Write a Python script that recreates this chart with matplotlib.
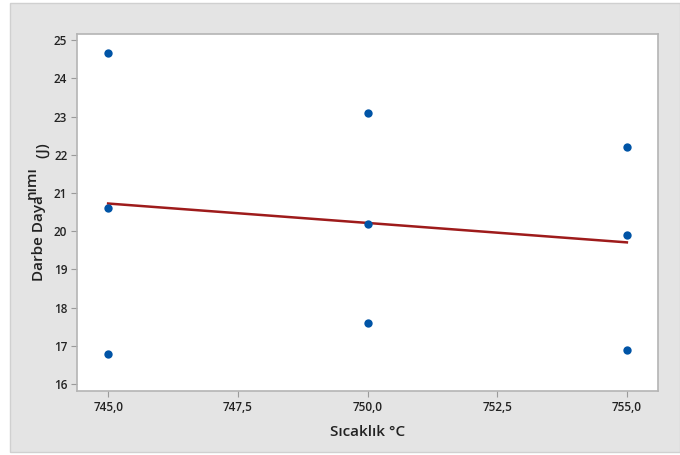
import matplotlib
matplotlib.use('Agg')
import matplotlib.pyplot as plt
from matplotlib.patches import Rectangle
import numpy as np

# data
sicaklik = [745, 745, 745, 750, 750, 750, 755, 755, 755]
darbe = [24.65, 20.6, 16.8, 23.1, 20.2, 17.6, 22.2, 19.9, 16.9]
xticks = [745.0, 747.5, 750.0, 752.5, 755.0]
yticks = [16, 17, 18, 19, 20, 21, 22, 23, 24, 25]

plt.rcParams['font.family'] = ['Open Sans', 'DejaVu Sans']

W, H = 680, 455
fig = plt.figure(figsize=(W/100, H/100), dpi=100, facecolor='white')
# gray outer panel
fig.patches.append(Rectangle((10/W, 3/H), 670/W, 449/H, transform=fig.transFigure,
                             facecolor='#e4e4e4', edgecolor='#d0d0d0', lw=1, zorder=-5))

ax = fig.add_axes([77/W, (H-391)/H, (658-77)/W, (391-34)/H])
ax.set_zorder(2)
ax.set_facecolor('white')

ax.scatter(sicaklik, darbe, s=36, color='#0054a6', zorder=3, linewidths=0)

# regression line
b, a = np.polyfit(sicaklik, darbe, 1)
xl = np.array([745, 755])
ax.plot(xl, a + b*xl, color='#9e1b1b', lw=1.8, zorder=2)

ax.set_xlim(744.4, 755.6)
ax.set_ylim(15.82, 25.16)
ax.set_xticks(xticks)
ax.set_xticklabels([('%.1f' % v).replace('.', ',') for v in xticks])
ax.set_yticks(yticks)

for s in ax.spines.values():
    s.set_color('#b4b4b4')
    s.set_linewidth(1.2)
ax.tick_params(direction='out', length=4, width=0.8, color='#9a9a9a',
               labelsize=8.5, labelcolor='#222222', pad=3)
for lab in ax.get_xticklabels() + ax.get_yticklabels():
    lab.set_fontweight('semibold')

ax.set_xlabel('Sıcaklık °C', fontsize=11, fontweight='semibold', color='#222222', labelpad=8)

# y label (rendered broken in the original, superscript "nımı")
kw = dict(rotation=90, rotation_mode='anchor', ha='left', va='center',
          fontsize=11, fontweight='semibold', color='#222222')
fig.text(39/W, (H-281)/H, 'Darbe Daya', **kw)
fig.text(32/W, (H-199)/H, 'nımı', **kw)
fig.text(42/W, (H-158)/H, '(J)', **kw)

fig.savefig('out.png', dpi=100, facecolor=fig.get_facecolor())
